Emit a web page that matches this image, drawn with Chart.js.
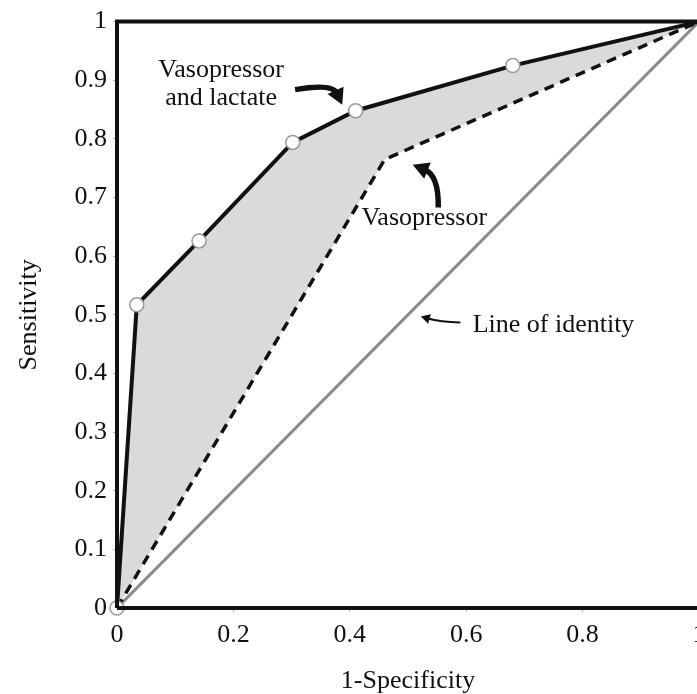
<!DOCTYPE html>
<html>
<head>
<meta charset="utf-8">
<script src="https://cdn.jsdelivr.net/npm/chart.js@4.4.0/dist/chart.umd.min.js"></script>
<style>
  html, body { margin: 0; padding: 0; background: #fff; overflow: hidden; }
  #wrap { position: relative; width: 700px; height: 694px; }
</style>
</head>
<body>
<div id="wrap"><canvas id="roc"></canvas></div>
<script>
// ROC curves: vasopressor alone vs. vasopressor and lactate
const fprCombined = [0, 0.034, 0.141, 0.302, 0.41, 0.68, 1];
const tprCombined = [0, 0.517, 0.626, 0.794, 0.848, 0.925, 1];
const fprVaso = [0, 0.46, 1];
const tprVaso = [0, 0.765, 1];
const fprIdentity = [0, 1];
const tprIdentity = [0, 1];
const xTickLabels = ['0', '0.2', '0.4', '0.6', '0.8', '1'];
const yTickLabels = ['0', '0.1', '0.2', '0.3', '0.4', '0.5', '0.6', '0.7', '0.8', '0.9', '1'];

const SERIF = "'Liberation Serif', 'Times New Roman', serif";
const FONT_SIZE = 26;

function toPoints(xs, ys) {
    return xs.map((v, i) => ({ x: v, y: ys[i] }));
}

// text notes and arrows, placed in data units
const notes = [
    { lines: ['Vasopressor', 'and lactate'], x: 0.179, y: 0.917 },
    { lines: ['Vasopressor'], x: 0.528, y: 0.664 },
    { lines: ['Line of identity'], x: 0.750, y: 0.482 }
];
const arrows = [
    { from: [0.306, 0.884], ctrl: [0.37, 0.895], to: [0.387, 0.858], width: 5.5, head: 16 },
    { from: [0.552, 0.683], ctrl: [0.553, 0.738], to: [0.508, 0.756], width: 5.5, head: 16 },
    { from: [0.590, 0.487], ctrl: [0.555, 0.488], to: [0.522, 0.497], width: 2, head: 9 }
];

function drawArrow(ctx, x, y, a) {
    const p0 = [x.getPixelForValue(a.from[0]), y.getPixelForValue(a.from[1])];
    const c = [x.getPixelForValue(a.ctrl[0]), y.getPixelForValue(a.ctrl[1])];
    const p1 = [x.getPixelForValue(a.to[0]), y.getPixelForValue(a.to[1])];
    const ang = Math.atan2(p1[1] - c[1], p1[0] - c[0]);
    const bx = p1[0] - Math.cos(ang) * a.head * 0.8;
    const by = p1[1] - Math.sin(ang) * a.head * 0.8;
    ctx.beginPath();
    ctx.moveTo(p0[0], p0[1]);
    ctx.quadraticCurveTo(c[0], c[1], bx, by);
    ctx.lineWidth = a.width;
    ctx.stroke();
    const hw = a.head * 0.55;
    const backX = p1[0] - Math.cos(ang) * a.head;
    const backY = p1[1] - Math.sin(ang) * a.head;
    ctx.beginPath();
    ctx.moveTo(p1[0], p1[1]);
    ctx.lineTo(backX + Math.sin(ang) * hw, backY - Math.cos(ang) * hw);
    ctx.lineTo(backX - Math.sin(ang) * hw, backY + Math.cos(ang) * hw);
    ctx.closePath();
    ctx.fill();
}

const rocNotes = {
    id: 'rocNotes',
    afterDatasetsDraw(chart) {
        const { ctx, chartArea: area, scales: { x, y } } = chart;
        ctx.save();
        // plot frame on top of the curves
        ctx.strokeStyle = '#111';
        ctx.lineWidth = 4;
        ctx.beginPath();
        ctx.moveTo(area.left, area.bottom);
        ctx.lineTo(area.left, area.top);
        ctx.lineTo(area.right, area.top);
        ctx.moveTo(area.left, area.bottom);
        ctx.lineTo(area.right, area.bottom);
        ctx.stroke();

        ctx.fillStyle = '#111';
        ctx.strokeStyle = '#111';
        ctx.font = FONT_SIZE + 'px ' + SERIF;
        ctx.textAlign = 'center';
        ctx.textBaseline = 'middle';
        notes.forEach(n => {
            const px = x.getPixelForValue(n.x);
            const py = y.getPixelForValue(n.y);
            n.lines.forEach((t, i) => ctx.fillText(t, px, py + i * 28));
        });
        ctx.lineCap = 'butt';
        arrows.forEach(a => drawArrow(ctx, x, y, a));
        ctx.restore();
    }
};

const rocCanvas = document.getElementById('roc');
new Chart(rocCanvas, {
    type: 'scatter',
    data: {
        datasets: [
            {
                label: 'Vasopressor and lactate',
                data: toPoints(fprCombined, tprCombined),
                showLine: true,
                borderColor: '#111',
                borderWidth: 4,
                pointRadius: [7, 7, 7, 7, 7, 7, 0],
                pointBackgroundColor: '#fff',
                pointBorderColor: '#9a9a9a',
                pointBorderWidth: 1.5,
                fill: { target: 1, above: '#dadada', below: '#dadada' },
                clip: false
            },
            {
                label: 'Vasopressor',
                data: toPoints(fprVaso, tprVaso),
                showLine: true,
                borderColor: '#111',
                borderWidth: 3.5,
                borderDash: [10, 7],
                pointRadius: 0
            },
            {
                label: 'Line of identity',
                data: toPoints(fprIdentity, tprIdentity),
                showLine: true,
                borderColor: '#8a8a8a',
                borderWidth: 3,
                pointRadius: 0
            }
        ]
    },
    options: {
        responsive: true,
        maintainAspectRatio: false,
        animation: false,
        layout: { autoPadding: false, padding: { top: 21, right: 1, left: 0, bottom: 0 } },
        plugins: {
            legend: { display: false },
            tooltip: { enabled: false },
            filler: { drawTime: 'beforeDatasetsDraw' }
        },
        scales: {
            x: {
                type: 'linear',
                min: 0,
                max: 1,
                border: { display: false },
                grid: { drawOnChartArea: false, drawTicks: true, tickLength: 4, tickColor: '#b0b0b0' },
                ticks: {
                    stepSize: 0.2,
                    padding: 8,
                    color: '#111',
                    font: { family: SERIF, size: FONT_SIZE },
                    maxRotation: 0,
                    callback: (v, i) => xTickLabels[i]
                },
                title: {
                    display: true,
                    text: '1-Specificity',
                    color: '#111',
                    font: { family: SERIF, size: FONT_SIZE },
                    padding: { top: 0, bottom: -3 }
                },
                afterFit(scale) {
                    scale.height = 86;
                    scale.paddingLeft = 0;
                    scale.paddingRight = 0;
                }
            },
            y: {
                type: 'linear',
                min: 0,
                max: 1,
                border: { display: false },
                grid: { drawOnChartArea: false, drawTicks: true, tickLength: 4, tickColor: '#b0b0b0' },
                ticks: {
                    stepSize: 0.1,
                    padding: 6,
                    color: '#111',
                    font: { family: SERIF, size: FONT_SIZE },
                    callback: (v, i) => yTickLabels[i]
                },
                title: {
                    display: true,
                    text: 'Sensitivity',
                    color: '#111',
                    font: { family: SERIF, size: FONT_SIZE },
                    padding: { top: 14, bottom: 0 }
                },
                afterFit(scale) {
                    scale.width = 117;
                }
            }
        }
    },
    plugins: [rocNotes]
});
</script>
</body>
</html>
